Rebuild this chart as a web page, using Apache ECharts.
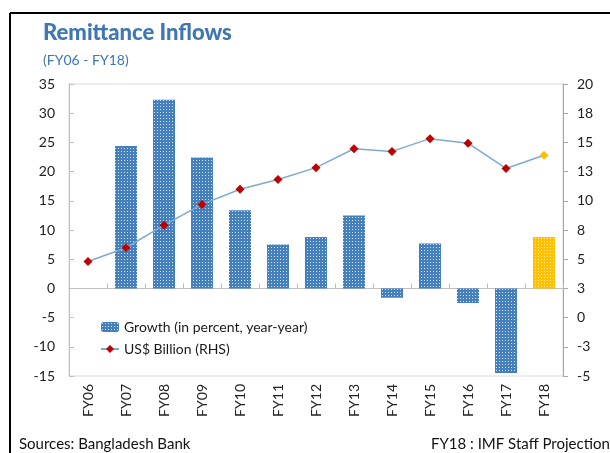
<!DOCTYPE html>
<html>
<head>
<meta charset="utf-8">
<script src="https://cdn.jsdelivr.net/npm/echarts@6/dist/echarts.min.js"></script>
<style>
  html, body { margin: 0; padding: 0; background: #fff; }
  #chart { width: 610px; height: 453px; }
</style>
</head>
<body>
<div id="chart"></div>
<script>
// Fiscal years
const categories = ['FY06', 'FY07', 'FY08', 'FY09', 'FY10', 'FY11', 'FY12', 'FY13', 'FY14', 'FY15', 'FY16', 'FY17', 'FY18'];
// Year-on-year growth of remittance inflows, percent (left axis); FY06 has no growth bar
const growthPct = [null, 24.4, 32.3, 22.4, 13.4, 7.5, 8.8, 12.5, -1.6, 7.7, -2.5, -14.5, 8.8];
// Remittance inflows, US$ billion (right axis)
const usdBillion = [4.8, 5.98, 7.91, 9.69, 10.99, 11.83, 12.84, 14.46, 14.23, 15.32, 14.93, 12.77, 13.9];
// Last year is a projection and is highlighted
const projectedIndex = 12;

// Dotted fill used for the bars
function dotPattern(base, dot) {
  const c = document.createElement('canvas');
  c.width = 3; c.height = 3;
  const g = c.getContext('2d');
  g.fillStyle = base;
  g.fillRect(0, 0, 3, 3);
  g.fillStyle = dot;
  g.fillRect(1, 1, 1, 1);
  return { image: c, repeat: 'repeat' };
}
const bluePattern = dotPattern('#4580be', '#d2e2f2');
const yellowPattern = dotPattern('#ffc000', '#fff1b3');

const FONT = 'Lato, "Open Sans", sans-serif';

const barData = growthPct.map((v, i) =>
  i === projectedIndex ? { value: v, itemStyle: { color: yellowPattern } } : v);
const lineData = usdBillion.map((v, i) =>
  i === projectedIndex ? { value: v, itemStyle: { color: '#ffc000' } } : v);

const chart = echarts.init(document.getElementById('chart'), null, { renderer: 'canvas' });

chart.setOption({
  animation: false,
  textStyle: { fontFamily: FONT },
  title: [
    {
      text: 'Remittance Inflows',
      left: 38, top: 17,
      textStyle: { fontFamily: FONT, fontSize: 22, fontWeight: 900, color: '#3e77b1' }
    },
    {
      text: '(FY06 - FY18)',
      left: 38, top: 48,
      textStyle: { fontFamily: FONT, fontSize: 14, fontWeight: 'normal', color: '#3e77b1' }
    },
    {
      text: 'Sources: Bangladesh Bank',
      left: 14, top: 432,
      textStyle: { fontFamily: FONT, fontSize: 15, fontWeight: 'normal', color: '#111' }
    },
    {
      text: 'FY18 : IMF Staff Projection',
      left: 426, top: 432,
      textStyle: { fontFamily: FONT, fontSize: 15, fontWeight: 'normal', color: '#111' }
    }
  ],
  graphic: [
    { type: 'line', shape: { x1: 10, y1: 13, x2: 610, y2: 13 }, style: { stroke: '#000', lineWidth: 2 } },
    { type: 'line', shape: { x1: 10, y1: 13, x2: 10, y2: 453 }, style: { stroke: '#000', lineWidth: 2 } }
  ],
  legend: {
    orient: 'vertical',
    left: 100, top: 320,
    padding: 0,
    itemGap: 8,
    itemWidth: 18, itemHeight: 10,
    textStyle: { fontFamily: FONT, fontSize: 14, color: '#1a1a1a' },
    data: ['Growth (in percent, year-year)', 'US$ Billion (RHS)']
  },
  grid: {
    left: 69, right: 47, top: 84, bottom: 77,
    show: true, borderColor: '#d9d9d9', borderWidth: 1, backgroundColor: 'transparent'
  },
  xAxis: [
    {
      type: 'category',
      data: categories,
      axisLine: { onZero: true, lineStyle: { color: '#bfbfbf', width: 1 } },
      axisTick: { show: true, inside: true, length: 5, alignWithLabel: false, lineStyle: { color: '#bfbfbf' } },
      axisLabel: { show: false }
    },
    {
      type: 'category',
      data: categories,
      position: 'bottom',
      axisLine: { show: false, onZero: false },
      axisTick: { show: false },
      axisLabel: { rotate: 90, margin: 8, fontFamily: FONT, fontSize: 14, color: '#222' }
    }
  ],
  yAxis: [
    {
      type: 'value',
      min: -15, max: 35, interval: 5,
      splitLine: { show: false },
      axisLine: { show: true, lineStyle: { color: '#bfbfbf' } },
      axisTick: { show: true, inside: true, length: 5, lineStyle: { color: '#bfbfbf' } },
      axisLabel: { margin: 14, fontFamily: FONT, fontSize: 14, color: '#222' }
    },
    {
      type: 'value',
      position: 'right',
      min: -5, max: 20, interval: 2.5,
      splitLine: { show: false },
      axisLine: { show: true, lineStyle: { color: '#a6a6a6' } },
      axisTick: { show: true, inside: false, length: 5, lineStyle: { color: '#a6a6a6' } },
      axisLabel: {
        margin: 14, fontFamily: FONT, fontSize: 14, color: '#222',
        formatter: v => String(Math.sign(v) * Math.round(Math.abs(v)))
      }
    }
  ],
  series: [
    {
      name: 'Growth (in percent, year-year)',
      type: 'bar',
      xAxisIndex: 0, yAxisIndex: 0,
      data: barData,
      barWidth: 22,
      itemStyle: { color: bluePattern }
    },
    {
      name: 'US$ Billion (RHS)',
      type: 'line',
      xAxisIndex: 0, yAxisIndex: 1,
      data: lineData,
      symbol: 'diamond',
      symbolSize: 9,
      showSymbol: true,
      lineStyle: { color: '#7ea9d3', width: 1.5 },
      itemStyle: { color: '#c00000' },
      z: 5
    }
  ]
});
</script>
</body>
</html>
